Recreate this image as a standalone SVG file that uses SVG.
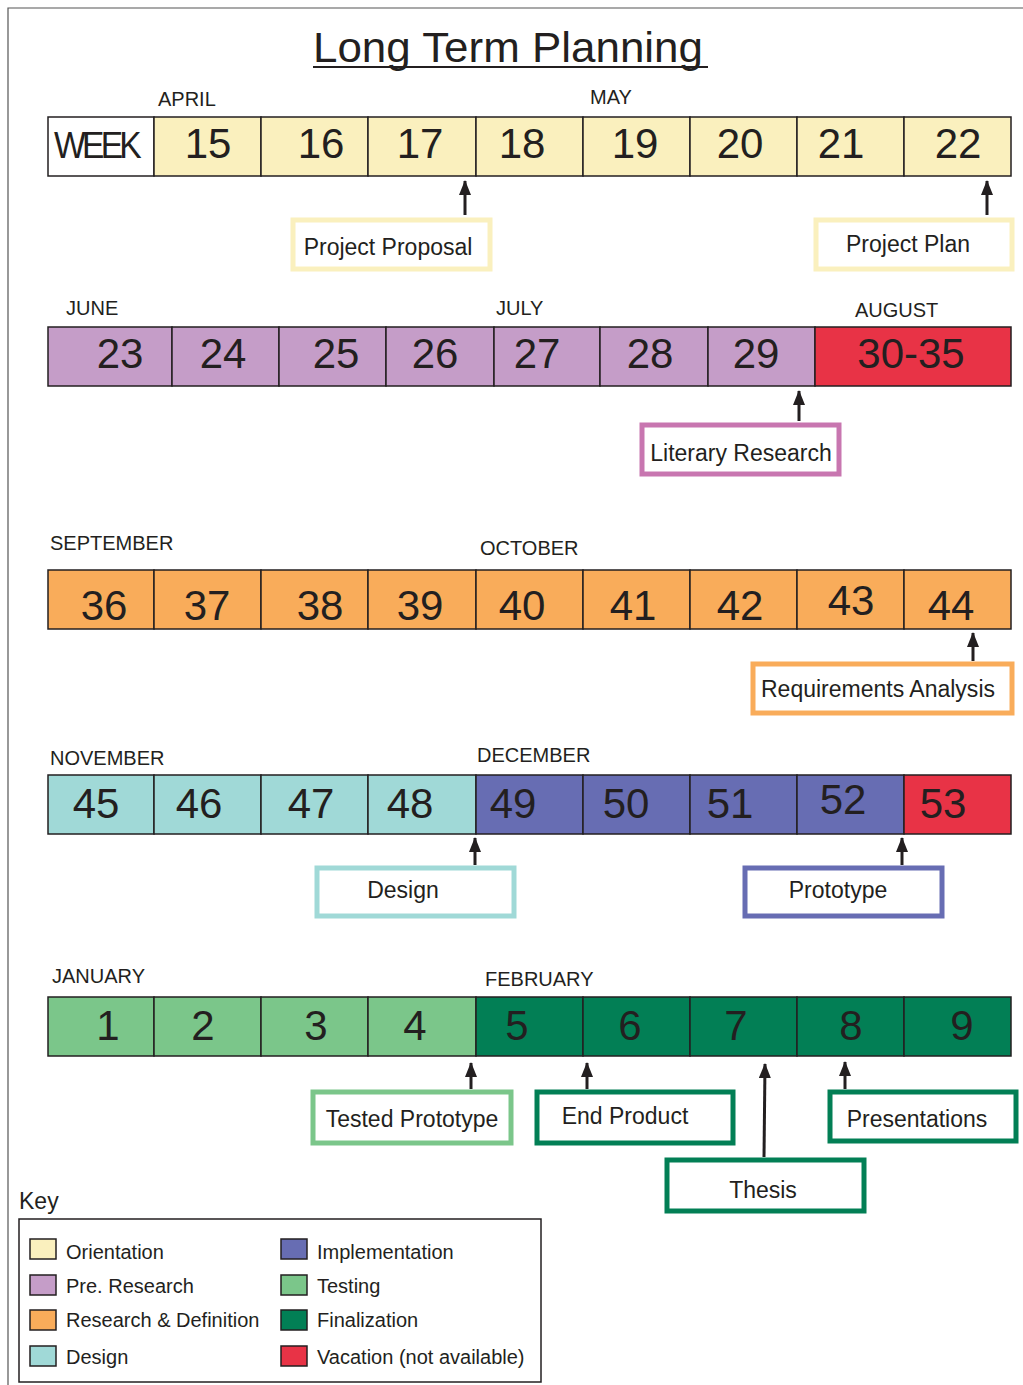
<svg xmlns="http://www.w3.org/2000/svg" width="1023" height="1385" viewBox="0 0 1023 1385">
  <defs>
    <style>
      text { font-family: "Liberation Sans", Arial, sans-serif; fill: #231f20; }
      .title { font-size: 43px; text-anchor: middle; }
      .month { font-size: 20px; }
      .num { font-size: 42px; text-anchor: middle; }
      .lbl { font-size: 23px; text-anchor: middle; }
      .key { font-size: 20px; }
      .cell { stroke: #231f20; stroke-width: 1.5; }
      .ori { fill: #faf0be; }
      .pre { fill: #c59dc8; }
      .vac { fill: #e83346; }
      .res { fill: #f9ac5a; }
      .des { fill: #a0d9d7; }
      .imp { fill: #676db3; }
      .tst { fill: #7bc68a; }
      .fin { fill: #027f55; }
      .box { fill: #ffffff; stroke-width: 5; }
      .conn line { stroke: #231f20; stroke-width: 3; }
    </style>
    <!-- arrowhead drawn along +x, tip at the line end -->
    <marker id="arrow" viewBox="0 0 15 12" refX="14" refY="6" markerWidth="15" markerHeight="12" markerUnits="userSpaceOnUse" orient="auto">
      <path d="M0,0 L15,6 L0,12 Z" fill="#231f20"/>
    </marker>
  </defs>

  <rect width="1023" height="1385" fill="#ffffff"/>
  <!-- page frame -->
  <path d="M8,1385 V8 H1023" fill="none" stroke="#555" stroke-width="1.2"/>

  <!-- title -->
  <g id="title">
    <text class="title" x="508" y="62" textLength="390" lengthAdjust="spacingAndGlyphs">Long Term Planning</text>
    <line x1="313" y1="67" x2="708" y2="67" stroke="#231f20" stroke-width="2"/>
  </g>

  <!-- row 1: weeks 15-22 -->
  <g id="row1">
    <rect class="cell" x="48" y="117" width="106" height="59" fill="#fff"/>
    <rect class="cell ori" x="154" y="117" width="107" height="59"/>
    <rect class="cell ori" x="261" y="117" width="107" height="59"/>
    <rect class="cell ori" x="368" y="117" width="108" height="59"/>
    <rect class="cell ori" x="476" y="117" width="107" height="59"/>
    <rect class="cell ori" x="583" y="117" width="107" height="59"/>
    <rect class="cell ori" x="690" y="117" width="107" height="59"/>
    <rect class="cell ori" x="797" y="117" width="107" height="59"/>
    <rect class="cell ori" x="904" y="117" width="107" height="59"/>
    <text x="54" y="158" font-size="36" textLength="84" lengthAdjust="spacingAndGlyphs" letter-spacing="-4">WEEK</text>
    <text class="num" x="208" y="158">15</text>
    <text class="num" x="321" y="158">16</text>
    <text class="num" x="420" y="158">17</text>
    <text class="num" x="522" y="158">18</text>
    <text class="num" x="635" y="158">19</text>
    <text class="num" x="740" y="158">20</text>
    <text class="num" x="841" y="158">21</text>
    <text class="num" x="958" y="158">22</text>
    <text class="month" x="158" y="106">APRIL</text>
    <text class="month" x="590" y="104">MAY</text>
  </g>

  <!-- row 2: weeks 23-35 -->
  <g id="row2">
    <rect class="cell pre" x="48" y="327" width="124" height="59"/>
    <rect class="cell pre" x="172" y="327" width="107" height="59"/>
    <rect class="cell pre" x="279" y="327" width="107" height="59"/>
    <rect class="cell pre" x="386" y="327" width="108" height="59"/>
    <rect class="cell pre" x="494" y="327" width="106" height="59"/>
    <rect class="cell pre" x="600" y="327" width="108" height="59"/>
    <rect class="cell pre" x="708" y="327" width="107" height="59"/>
    <rect class="cell vac" x="815" y="327" width="196" height="59"/>
    <text class="num" x="120" y="368">23</text>
    <text class="num" x="223" y="368">24</text>
    <text class="num" x="336" y="368">25</text>
    <text class="num" x="435" y="368">26</text>
    <text class="num" x="537" y="368">27</text>
    <text class="num" x="650" y="368">28</text>
    <text class="num" x="756" y="368">29</text>
    <text class="num" x="911" y="368">30-35</text>
    <text class="month" x="66" y="315">JUNE</text>
    <text class="month" x="496" y="315">JULY</text>
    <text class="month" x="855" y="317">AUGUST</text>
  </g>

  <!-- row 3: weeks 36-44 -->
  <g id="row3">
    <rect class="cell res" x="48" y="570" width="106" height="59"/>
    <rect class="cell res" x="154" y="570" width="107" height="59"/>
    <rect class="cell res" x="261" y="570" width="107" height="59"/>
    <rect class="cell res" x="368" y="570" width="108" height="59"/>
    <rect class="cell res" x="476" y="570" width="107" height="59"/>
    <rect class="cell res" x="583" y="570" width="107" height="59"/>
    <rect class="cell res" x="690" y="570" width="107" height="59"/>
    <rect class="cell res" x="797" y="570" width="107" height="59"/>
    <rect class="cell res" x="904" y="570" width="107" height="59"/>
    <text class="num" x="104" y="620">36</text>
    <text class="num" x="207" y="620">37</text>
    <text class="num" x="320" y="620">38</text>
    <text class="num" x="420" y="620">39</text>
    <text class="num" x="522" y="620">40</text>
    <text class="num" x="633" y="620">41</text>
    <text class="num" x="740" y="620">42</text>
    <text class="num" x="851" y="615">43</text>
    <text class="num" x="951" y="620">44</text>
    <text class="month" x="50" y="550">SEPTEMBER</text>
    <text class="month" x="480" y="555">OCTOBER</text>
  </g>

  <!-- row 4: weeks 45-53 -->
  <g id="row4">
    <rect class="cell des" x="48" y="775" width="106" height="59"/>
    <rect class="cell des" x="154" y="775" width="107" height="59"/>
    <rect class="cell des" x="261" y="775" width="107" height="59"/>
    <rect class="cell des" x="368" y="775" width="108" height="59"/>
    <rect class="cell imp" x="476" y="775" width="107" height="59"/>
    <rect class="cell imp" x="583" y="775" width="107" height="59"/>
    <rect class="cell imp" x="690" y="775" width="107" height="59"/>
    <rect class="cell imp" x="797" y="775" width="107" height="59"/>
    <rect class="cell vac" x="904" y="775" width="107" height="59"/>
    <text class="num" x="96" y="818">45</text>
    <text class="num" x="199" y="818">46</text>
    <text class="num" x="311" y="818">47</text>
    <text class="num" x="410" y="818">48</text>
    <text class="num" x="513" y="818">49</text>
    <text class="num" x="626" y="818">50</text>
    <text class="num" x="730" y="818">51</text>
    <text class="num" x="843" y="814">52</text>
    <text class="num" x="943" y="818">53</text>
    <text class="month" x="50" y="765">NOVEMBER</text>
    <text class="month" x="477" y="762">DECEMBER</text>
  </g>

  <!-- row 5: weeks 1-9 -->
  <g id="row5">
    <rect class="cell tst" x="48" y="997" width="106" height="59"/>
    <rect class="cell tst" x="154" y="997" width="107" height="59"/>
    <rect class="cell tst" x="261" y="997" width="107" height="59"/>
    <rect class="cell tst" x="368" y="997" width="108" height="59"/>
    <rect class="cell fin" x="476" y="997" width="107" height="59"/>
    <rect class="cell fin" x="583" y="997" width="107" height="59"/>
    <rect class="cell fin" x="690" y="997" width="107" height="59"/>
    <rect class="cell fin" x="797" y="997" width="107" height="59"/>
    <rect class="cell fin" x="904" y="997" width="107" height="59"/>
    <text class="num" x="108" y="1040">1</text>
    <text class="num" x="203" y="1040">2</text>
    <text class="num" x="316" y="1040">3</text>
    <text class="num" x="415" y="1040">4</text>
    <text class="num" x="517" y="1040">5</text>
    <text class="num" x="630" y="1040">6</text>
    <text class="num" x="736" y="1040">7</text>
    <text class="num" x="851" y="1040">8</text>
    <text class="num" x="962" y="1040">9</text>
    <text class="month" x="52" y="983">JANUARY</text>
    <text class="month" x="485" y="986">FEBRUARY</text>
  </g>

  <!-- milestone boxes -->
  <g id="project-proposal">
    <rect class="box" x="293" y="220" width="197" height="49" stroke="#faf0be"/>
    <text class="lbl" x="388" y="255">Project Proposal</text>
  </g>
  <g id="project-plan">
    <rect class="box" x="816" y="220" width="196" height="49" stroke="#faf0be"/>
    <text class="lbl" x="908" y="252">Project Plan</text>
  </g>
  <g id="literary-research">
    <rect class="box" x="642" y="425" width="197" height="49" stroke="#c876b0"/>
    <text class="lbl" x="741" y="461">Literary Research</text>
  </g>
  <g id="requirements-analysis">
    <rect class="box" x="753" y="664" width="259" height="49" stroke="#f9ac5a"/>
    <text class="lbl" x="878" y="697" textLength="234" lengthAdjust="spacingAndGlyphs">Requirements Analysis</text>
  </g>
  <g id="design">
    <rect class="box" x="317" y="868" width="197" height="48" stroke="#a0d9d7"/>
    <text class="lbl" x="403" y="898">Design</text>
  </g>
  <g id="prototype">
    <rect class="box" x="745" y="868" width="197" height="48" stroke="#676db3"/>
    <text class="lbl" x="838" y="898">Prototype</text>
  </g>
  <g id="tested-prototype">
    <rect class="box" x="313" y="1092" width="198" height="51" stroke="#7bc68a"/>
    <text class="lbl" x="412" y="1127">Tested Prototype</text>
  </g>
  <g id="end-product">
    <rect class="box" x="537" y="1092" width="196" height="51" stroke="#027f55"/>
    <text class="lbl" x="625" y="1124">End Product</text>
  </g>
  <g id="thesis">
    <rect class="box" x="667" y="1160" width="197" height="51" stroke="#027f55"/>
    <text class="lbl" x="763" y="1198">Thesis</text>
  </g>
  <g id="presentations">
    <rect class="box" x="830" y="1092" width="186" height="49" stroke="#027f55"/>
    <text class="lbl" x="917" y="1127">Presentations</text>
  </g>

  <!-- connectors: box to week -->
  <g id="connectors" class="conn">
    <line x1="465" y1="215" x2="465" y2="181" marker-end="url(#arrow)"/>
    <line x1="987" y1="215" x2="987" y2="181" marker-end="url(#arrow)"/>
    <line x1="799" y1="421" x2="799" y2="391" marker-end="url(#arrow)"/>
    <line x1="973" y1="661" x2="973" y2="633" marker-end="url(#arrow)"/>
    <line x1="475" y1="865" x2="475" y2="838" marker-end="url(#arrow)"/>
    <line x1="902" y1="865" x2="902" y2="838" marker-end="url(#arrow)"/>
    <line x1="471" y1="1089" x2="471" y2="1063" marker-end="url(#arrow)"/>
    <line x1="587" y1="1089" x2="587" y2="1063" marker-end="url(#arrow)"/>
    <line x1="764" y1="1157" x2="765" y2="1064" marker-end="url(#arrow)"/>
    <line x1="845" y1="1089" x2="845" y2="1062" marker-end="url(#arrow)"/>
  </g>

  <!-- key -->
  <g id="key">
    <text x="19" y="1209" font-size="23">Key</text>
    <rect x="19" y="1219" width="522" height="163" fill="none" stroke="#231f20" stroke-width="1.5"/>
    <rect class="cell ori" x="30" y="1239" width="26" height="20" stroke-width="1"/>
    <rect class="cell pre" x="30" y="1275" width="26" height="20" stroke-width="1"/>
    <rect class="cell res" x="30" y="1310" width="26" height="20" stroke-width="1"/>
    <rect class="cell des" x="30" y="1346" width="26" height="20" stroke-width="1"/>
    <rect class="cell imp" x="281" y="1239" width="26" height="20" stroke-width="1"/>
    <rect class="cell tst" x="281" y="1275" width="26" height="20" stroke-width="1"/>
    <rect class="cell fin" x="281" y="1310" width="26" height="20" stroke-width="1"/>
    <rect class="cell vac" x="281" y="1346" width="26" height="20" stroke-width="1"/>
    <text class="key" x="66" y="1259">Orientation</text>
    <text class="key" x="66" y="1293">Pre. Research</text>
    <text class="key" x="66" y="1327">Research &amp; Definition</text>
    <text class="key" x="66" y="1364">Design</text>
    <text class="key" x="317" y="1259">Implementation</text>
    <text class="key" x="317" y="1293">Testing</text>
    <text class="key" x="317" y="1327">Finalization</text>
    <text class="key" x="317" y="1364">Vacation (not available)</text>
  </g>
</svg>
